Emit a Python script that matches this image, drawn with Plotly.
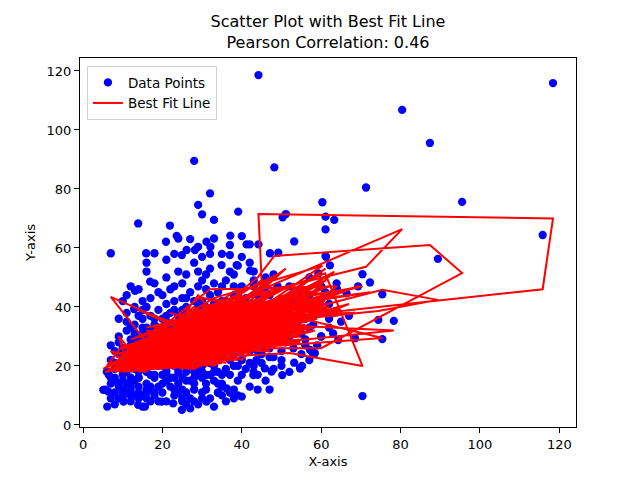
import plotly.graph_objects as go

# data points, in the order they were plotted (the fit line follows this order)
x_vals = [
    22, 14, 35, 9, 28, 41, 18, 31, 52, 12,
    26, 38, 7, 33, 20, 47, 16, 29, 57, 24,
    11, 36, 44, 19, 30, 62, 15, 27, 40, 8,
    23, 34, 50, 17, 32, 13, 45, 21, 55, 28,
    6.4, 39, 25, 65, 18, 42, 10, 31, 48, 27,
    20, 37, 14, 58.4, 33, 24, 46, 12, 29, 53,
    16, 7, 35, 22, 43, 9, 30, 60, 26, 38,
    19, 47, 15, 34, 25, 56, 21, 40, 11, 32,
    28, 50, 17, 36, 23, 64, 13, 44, 31, 19,
    27, 45, 44.2, 118.4, 115.8, 40, 14, 33, 24, 51,
    10, 37, 29, 18, 42, 26, 35, 62.2, 21, 32,
    8, 46, 24, 39, 16, 54.7, 30, 12, 43, 27,
    20, 44, 48.2, 87.4, 95.5, 60, 15, 34, 23, 38,
    11, 49, 28, 19, 36, 6.1, 41, 25, 57.2, 31,
    17, 33, 22, 47.5, 14, 39, 26, 53.2, 9, 30,
    35, 21, 80.4, 71.3, 30, 45, 13, 40, 24, 61.1,
    18, 32, 50.2, 27, 15, 42, 23, 37, 11, 55,
    29, 61, 70.4, 52, 20, 34, 16, 44, 26, 39,
    12, 31, 48, 22, 36, 17, 58, 28, 42, 7,
    33, 75.4, 89.4, 74.4, 25, 14, 38, 21, 53, 30,
    19, 43.7, 10, 35, 24, 47.1, 16, 29, 63.3, 40,
    26, 13, 36, 22, 44, 18, 69.3, 31, 11, 41.2,
    27, 50.3, 15, 34, 21, 59.3, 38, 23, 8, 45.8,
    32, 17, 42.9, 28, 13.9, 37, 24, 49.2, 19, 33,
    78.3, 12, 29, 40, 21.9, 35, 16, 51.1, 27, 43,
    75.4, 20, 31, 37.1, 15, 54, 25, 61.2, 9, 36,
    29, 22, 39.1, 14, 46, 32.1, 18, 41, 26, 60.3,
    33, 12.9, 66.4, 23.6, 37, 30, 64.3, 20.9, 44, 63.9,
    32, 16.9, 68.5, 26.1, 70.4, 13.1, 40, 62, 28.2, 72.3,
    15.9, 34.9, 53.2, 31.1, 42.1, 5.1, 24.9, 38.7, 10.2, 57,
    13.9, 47, 22.7, 30, 27, 55, 33, 18, 19.8, 40,
    36.2, 25, 31.1, 52, 24.9, 14, 15.6, 44, 34, 21,
    54.7, 29, 55.2, 17, 50, 36, 46, 11, 58, 26,
    63, 8, 42, 23, 57, 32, 19, 48, 12, 35,
    61.1, 27, 44.2, 16, 38, 5.6, 29, 53, 21, 37,
    10, 41, 25, 61.1, 18, 46, 30, 14, 50, 33,
    22, 39, 13, 56, 28, 43, 9, 35, 20, 47,
    34, 17, 58, 26, 40, 12, 31, 49, 24, 67,
    36, 15, 45, 27, 62, 19, 38, 23, 52, 30,
    11, 43, 28, 16, 35, 60, 21, 41, 7, 32,
    9, 33, 21, 46, 14, 27, 38, 17, 56, 24,
    31, 12, 42, 20, 35, 7, 26, 49, 16, 39,
    23, 44, 11, 30, 18, 53, 28, 36, 14, 41,
    19, 37, 25, 8, 47, 32, 22, 59, 13, 29,
    40, 15, 34, 26, 51, 10, 38, 21, 45, 30,
    17, 43, 28, 6.5, 36, 24, 55, 12, 32, 20,
    34, 14, 41, 23, 30, 9, 48, 27, 18, 39,
    25, 52, 16, 37, 21, 44, 11, 33, 29, 57,
    13, 35, 22, 47, 18, 31, 40, 8, 26, 43,
    29, 15, 38, 24, 50, 20, 33, 12, 42, 36,
    19, 46, 27, 10, 35, 23, 54, 16, 31, 40,
    22, 37, 14, 28, 45, 11, 33, 18, 61, 25,
    8, 12, 6, 10, 14, 9, 11, 7, 13, 16,
]
y_vals = [
    31, 18, 42, 24, 89.5, 27, 36, 12, 38, 29,
    22, 51, 14, 34, 44, 26, 9, 40, 33, 27,
    21, 19, 44, 25, 57, 41, 33, 15, 36, 11,
    47, 27, 22, 13, 31, 40, 33, 19, 45, 24,
    11.3, 30, 36, 35, 22, 55, 17, 46, 29, 33,
    11, 41, 27, 24.3, 15, 52, 38, 8, 28, 35,
    40, 58.2, 23, 16, 47, 30, 20, 30, 43, 12,
    33, 44, 6.2, 38, 9, 27, 29, 22, 35, 53,
    18, 34, 26, 31, 39, 46, 15, 17, 36, 8,
    45, 41, 118.6, 115.9, 64.4, 36, 22, 26, 14, 41,
    26, 61, 33, 48, 25, 7, 47, 54.1, 37, 21,
    19, 30, 31, 10, 30, 19.2, 49, 12, 39, 27,
    22, 33, 87.3, 95.6, 75.6, 30, 36, 18, 58, 33,
    44, 47, 12, 39, 26, 6.2, 43, 21, 25.4, 40,
    17, 63.2, 25, 18.1, 46, 38, 34, 62.2, 9, 33,
    14, 56, 106.8, 80.5, 28, 24, 31, 47, 18, 66.3,
    11, 44, 16.9, 38, 24, 61.2, 10, 22, 38, 31,
    52, 45, 9.8, 30, 17, 30, 52, 28, 26, 54,
    22, 25, 51, 33, 8, 43, 40, 36, 13, 27,
    37, 44.3, 56.3, 35.6, 48, 11, 28, 41, 26, 16,
    30, 22, 15, 35, 63.2, 58.2, 20, 22, 69.5, 9.6,
    40, 34, 49, 13, 36, 28, 47, 29, 18, 61.2,
    20, 70.4, 42, 11, 35, 51.4, 44, 23, 7, 19.2,
    58, 32, 16.9, 42, 68.3, 17, 37, 58.4, 20, 48,
    35.3, 27, 60.4, 29, 67.6, 39, 14, 71.5, 30, 52,
    29.1, 26, 14, 64.2, 39, 40, 12, 57, 36, 37,
    74.6, 46, 72.3, 30, 45, 60.4, 58.2, 19, 15, 75.5,
    69.5, 39.3, 44.6, 64.1, 57.6, 71.4, 28.8, 62.1, 12, 48,
    78.5, 48.6, 29.4, 59.3, 51.1, 45.5, 57, 36, 59.3, 48.3,
    58.2, 54.2, 21.1, 62.1, 52.3, 11.9, 57.6, 54.2, 7.9, 44,
    6.8, 35, 7.3, 42, 5.6, 38, 6.2, 34, 7.9, 41,
    12.4, 29, 7.9, 47, 5.1, 37, 6.2, 40, 10.9, 50,
    19.2, 26, 20, 23, 25, 42, 15, 32, 34, 51,
    31, 16, 32, 42, 50, 17, 45, 23, 10, 30,
    70.6, 9, 61.2, 26, 24, 12, 47, 42, 23, 52,
    42, 35, 43, 57.3, 16, 50, 37, 13, 20, 41,
    38, 15, 24, 29, 55, 27, 20, 58, 31, 12,
    45, 37, 24, 18, 64, 47, 51, 37, 25, 37,
    18, 28, 44, 63, 33, 13, 47, 29, 18, 11,
    25, 49, 31, 55, 24, 47, 8, 40, 22, 35,
    13, 20, 15, 29, 19, 37, 9, 12, 36, 19,
    32, 14, 21, 27, 13, 16, 23, 31, 18, 26,
    12, 25, 23, 18, 21, 33, 14, 40, 9, 30,
    27, 33, 8, 21, 40, 9, 34, 27, 19, 17,
    17, 10, 22, 30, 28, 12, 39, 18, 21, 38,
    8, 18, 16, 17, 33, 11, 24, 33, 27, 36,
    14, 16, 28, 20, 9, 28, 19, 26, 25, 20,
    16, 37, 11, 11, 31, 31, 11, 39, 19, 22,
    28, 17, 26, 23, 17, 35, 25, 25, 11, 20,
    7, 31, 20, 24, 42, 14, 23, 16, 38, 27,
    24, 33, 28, 9, 10, 16, 34, 33, 17, 32,
    29, 36, 20, 8, 26, 14, 18, 10, 38, 39,
    15, 13, 18, 11, 16, 14, 19, 9, 10, 12,
]
# model predictions, drawn against x in the same (unsorted) order
fit_vals = [
    27, 22, 33, 21, 40, 31, 26, 22, 35, 24,
    25, 37, 19, 30, 29, 30, 19, 32, 36, 26,
    20, 26, 38, 24, 36, 40, 25, 22, 33, 18,
    31, 28, 27, 20, 29, 27, 34, 23, 42, 26,
    19, 30, 29, 39, 23, 41, 19, 34, 32, 28,
    20, 35, 23, 32, 23, 33, 36, 18, 27, 37,
    28, 43.4, 27, 22, 39, 23, 24, 38, 31, 24,
    27, 40, 18, 32, 20, 34, 26, 28, 25, 37,
    23, 35, 24, 30, 30, 45, 20, 26, 31, 19,
    33, 49, 71.5, 70, 46, 35, 22, 27, 21, 38,
    21, 41, 29, 30, 29, 19, 36, 47, 28, 25,
    19, 32, 27, 22, 25, 28, 35, 19, 36, 27,
    24, 50, 57.3, 61, 51.5, 26, 26, 25, 34, 31,
    27, 41, 21, 28, 28, 18, 37, 24, 33, 32,
    21, 40, 25, 27, 28, 33, 28, 48, 18, 29,
    23, 32, 66.4, 53.6, 40, 30, 24, 38, 22, 50,
    20, 34, 27, 30, 23, 44, 20, 27, 26, 36,
    35, 51.4, 20, 24.4, 22, 29, 31, 32, 26, 39,
    21, 27, 42, 27, 21, 28, 41, 30, 25, 21,
    31, 45.8, 42.4, 38.6, 32, 19, 30, 29, 33, 23,
    26, 30, 19, 32, 37, 45, 22, 25, 52, 22,
    31, 25, 37, 20, 35, 25, 47, 28, 20, 44,
    24, 52, 28, 22, 27, 48, 36, 25, 18, 28,
    38, 26, 26, 32, 39, 25, 29, 46, 23, 35,
    32, 23, 39, 31, 38, 33, 20, 53, 28, 40,
    29.5, 24, 22, 42, 27, 40, 21, 49, 24, 32,
    44, 31, 46, 24, 40, 40, 33, 27, 22, 54,
    43, 27, 46, 37, 41, 43, 37, 35, 25, 47,
    46, 30, 38, 36, 47, 28, 42, 41, 37, 45,
    33, 39, 30, 40, 41, 19, 35, 40, 18, 43,
    18, 37, 19, 33, 19, 39, 20, 26, 19, 35,
    23, 27, 20, 43, 19, 26, 18, 37, 22, 31,
    30, 27, 29, 23, 31, 34, 26, 24, 39, 33,
    38, 19, 33, 30, 45, 24, 29, 30, 18, 30,
    53, 20, 45, 24, 28, 18, 34, 41, 24, 39,
    26, 34, 31, 49, 21, 42, 31, 19, 29, 33,
    28, 25, 22, 35, 36, 31, 20, 40, 26, 25,
    35, 27, 33, 23, 44, 29, 36, 37, 25, 41,
    25, 24, 39, 38, 40, 20, 37, 26, 28, 21,
    22, 40, 28, 32, 27, 46, 19, 36, 20, 30,
    19, 24, 21, 31, 21, 30, 22, 20, 38, 23,
    29, 19, 28, 25, 23, 19, 25, 33, 21, 29,
    21, 31, 21, 24, 23, 36, 21, 34, 18, 31,
    25, 31, 20, 20, 38, 21, 28, 36, 21, 23,
    26, 19, 26, 28, 32, 19, 34, 22, 29, 31,
    19, 27, 22, 19, 31, 20, 32, 24, 27, 27,
    22, 20, 30, 23, 20, 22, 28, 26, 24, 27,
    22, 37, 19, 22, 27, 33, 19, 33, 24, 33,
    23, 24, 26, 29, 21, 30, 28, 21, 20, 28,
    20, 25, 26, 25, 39, 21, 26, 20, 35, 28,
    24, 34, 27, 18, 21, 22, 37, 26, 23, 31,
    26, 32, 21, 19, 31, 19, 24, 19, 42, 31,
    19, 24, 20, 27, 22, 30, 21, 25, 23, 28,
]
pearson_r = 0.46
tick_vals = [0, 20, 40, 60, 80, 100, 120]

font = "DejaVu Sans, sans-serif"

fig = go.Figure()
fig.add_trace(go.Scatter(x=x_vals, y=y_vals, mode="markers", name="Data Points",
                         marker=dict(color="#0000ff", size=8.3, line=dict(width=0))))
fig.add_trace(go.Scatter(x=x_vals, y=fit_vals, mode="lines", name="Best Fit Line",
                         line=dict(color="#ff0000", width=2)))

axis_style = dict(showgrid=False, zeroline=False, showline=True, linecolor="black", linewidth=1,
                  mirror=True, ticks="outside", ticklen=5, tickcolor="black", automargin=False,
                  tickfont=dict(size=13, color="black"), tickvals=tick_vals)

# the page body adds an 8px offset, so margins are 8px smaller on the left and top
fig.update_layout(
    width=640, height=480,
    margin=dict(l=72, r=72, t=50, b=61, autoexpand=False),
    paper_bgcolor="white", plot_bgcolor="white",
    font=dict(family=font, color="black"),
    title=dict(text=f"Scatter Plot with Best Fit Line<br>Pearson Correlation: {pearson_r:.2f}",
               x=320 / 640, xanchor="center", y=1 - 19 / 480, yanchor="middle",
               font=dict(size=16, color="black"), automargin=False),
    xaxis=dict(range=[-0.76, 124.2], title=dict(text="X-axis", font=dict(size=13), standoff=6), **axis_style),
    yaxis=dict(range=[-0.7, 124.4], title=dict(text="Y-axis", font=dict(size=13), standoff=8), **axis_style),
    legend=dict(x=0.014, y=0.978, xanchor="left", yanchor="top", bgcolor="rgba(255,255,255,0.8)",
                bordercolor="#d0d0d0", borderwidth=1, font=dict(size=13.5), tracegroupgap=0),
    showlegend=True,
)

fig.write_html("out.html")
